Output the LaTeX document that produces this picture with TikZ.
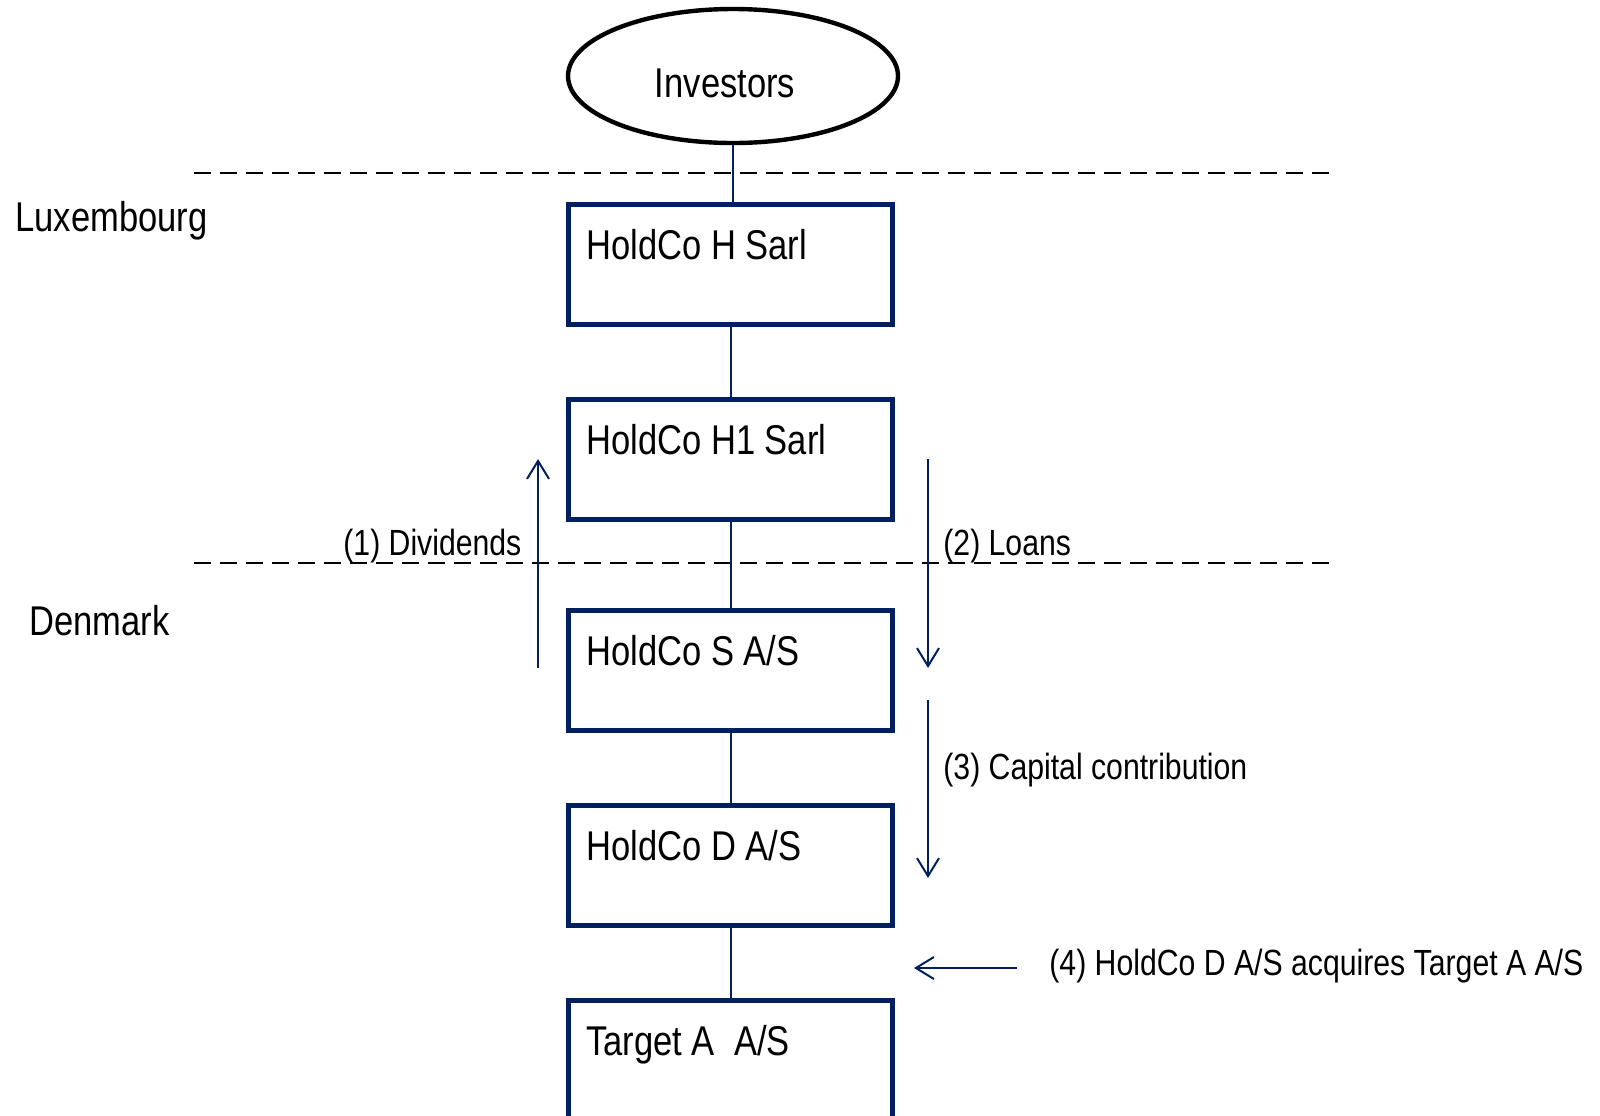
\documentclass[tikz,border=0pt]{standalone}
\usepackage{fontspec}
\setmainfont{Liberation Sans}[FakeStretch=0.83]
\usetikzlibrary{shapes.geometric,arrows.meta}
\definecolor{navy}{HTML}{002060}
\newcommand\txtbig{\fontsize{20.8pt}{24pt}\selectfont}
\newcommand\txtlabel{\fontsize{18.2pt}{22pt}\selectfont}
\begin{document}
\begin{tikzpicture}[x=0.5pt,y=-0.5pt,
  entity/.style={draw=navy, line width=2.5pt, minimum width=162pt,
    minimum height=60pt, inner sep=0pt, anchor=north west},
  entname/.style={inner sep=0pt, anchor=base west, font=\txtbig},
  region/.style={inner sep=0pt, anchor=base west, font=\txtbig},
  flowlabel/.style={inner sep=0pt, anchor=base west, font=\txtlabel},
  owns/.style={draw=navy, line width=1pt},
  border/.style={draw=black, line width=1pt, dash pattern=on 8.5pt off 4.5pt},
  flow/.style={draw=navy, line width=1pt, -{Straight Barb[length=9pt,width=11pt]}}]

\path[use as bounding box] (0,0) rectangle (1600,1115);
\clip (0,0) rectangle (1600,1115);

% country borders
\coordinate (l1a) at (194,173);
\coordinate (l1b) at (1332,173);
\coordinate (l2a) at (194,563);
\coordinate (l2b) at (1332,563);
\draw[border] (l1a) -- (l1b);
\draw[border] (l2a) -- (l2b);

\node[region] (lux) at (15,231) {Luxembourg};
\node[region] (dk) at (29,635) {Denmark};

% investors
\node[ellipse, draw=black, line width=2.2pt, minimum width=165pt,
  minimum height=67pt, inner sep=0pt] (inv) at (733,76) {};
\node[inner sep=0pt, anchor=base, font=\txtbig] (invt) at (725,97) {Investors};

% entities
\node[entity] (b1) at (566,202) {};
\node[entity] (b2) at (566,397) {};
\node[entity] (b3) at (566,608) {};
\node[entity] (b4) at (566,803) {};
\node[entity] (b5) at (566,998) {};

\node[entname] (t1) at ([xshift=10pt,yshift=-28.5pt]b1.north west) {HoldCo H Sarl};
\node[entname] (t2) at ([xshift=10pt,yshift=-28.5pt]b2.north west) {HoldCo H1 Sarl};
\node[entname] (t3) at ([xshift=10pt,yshift=-28.5pt]b3.north west) {HoldCo S A/S};
\node[entname] (t4) at ([xshift=10pt,yshift=-28.5pt]b4.north west) {HoldCo D A/S};
\node[entname] (t5) at ([xshift=10pt,yshift=-28.5pt]b5.north west) {Target A~~A/S};

% ownership lines
\draw[owns] (inv.south) -- (inv.south |- b1.north);
\draw[owns] (b1.south) -- (b2.north);
\draw[owns] (b2.south) -- (b3.north);
\draw[owns] (b3.south) -- (b4.north);
\draw[owns] (b4.south) -- (b5.north);

% flows
\coordinate (d0) at (538,668);
\coordinate (d1) at (538,459);
\coordinate (n0) at (928,459);
\coordinate (n1) at (928,668);
\coordinate (c0) at (928,700);
\coordinate (c1) at (928,878);
\coordinate (a0) at (1017,968);
\coordinate (a1) at (914,968);
\draw[flow] (d0) -- (d1);
\draw[flow] (n0) -- (n1);
\draw[flow] (c0) -- (c1);
\draw[flow] (a0) -- (a1);

\node[flowlabel] (fd) at (343,555) {(1) Dividends};
\node[flowlabel] (fn) at (943,555) {(2) Loans};
\node[flowlabel] (fc) at (943,779) {(3) Capital contribution};
\node[flowlabel] (fa) at (1049,975) {(4) HoldCo D A/S acquires Target A A/S};

\end{tikzpicture}
\end{document}
